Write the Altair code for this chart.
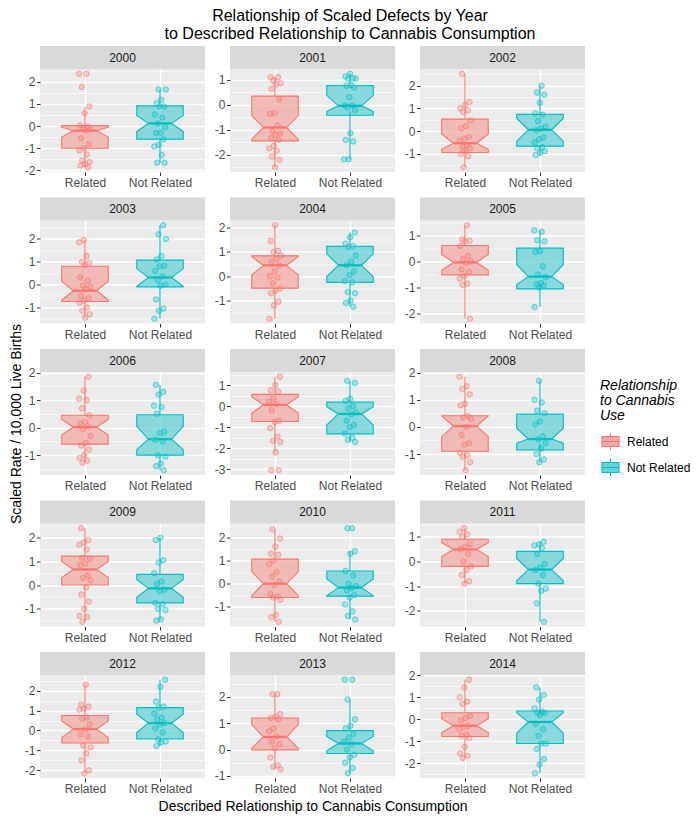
import altair as alt
import pandas as pd

YEARS = list(range(2000, 2015))
GROUPS = ["Related", "Not Related"]
COLORS = ["#F8766D", "#00BFC4"]
BOX_FILLS = ["#F2AAA4", "#67D2D5"]

# Box statistics (lower whisker, Q1, notch low, median, notch high, Q3, upper whisker)
REL_WLO = [-1.86, -2.51, -1.59, -1.45, -1.75, -2.20, -1.27, -2.20, -1.60, -1.55, -1.65, -0.90, -2.15, -0.75, -1.75]
REL_Q1 = [-1.00, -1.45, -0.80, -0.74, -0.49, -0.51, -0.60, -0.73, -0.90, 0.00, -0.60, -0.20, -0.63, -0.01, -0.78]
REL_NLO = [-0.50, -1.39, -0.94, -0.68, 0.05, -0.33, -0.27, -0.33, -0.36, 0.32, -0.52, 0.20, -0.35, 0.05, -0.60]
REL_MED = [-0.21, -0.91, -0.53, -0.27, 0.45, -0.03, 0.02, 0.06, 0.03, 0.66, 0.00, 0.49, 0.07, 0.48, -0.29]
REL_NHI = [0.02, -0.43, -0.12, 0.14, 0.84, 0.27, 0.30, 0.45, 0.41, 1.00, 0.52, 0.76, 0.48, 0.95, 0.03]
REL_Q3 = [-0.05, 0.35, 0.53, 0.80, 0.80, 0.62, 0.45, 0.56, 0.40, 1.22, 1.06, 0.90, 0.75, 1.20, 0.30]
REL_WHI = [0.85, 1.11, 2.53, 1.95, 2.10, 1.40, 1.85, 1.40, 1.85, 2.40, 2.35, 1.35, 2.30, 2.10, 1.80]

NR_WLO = [-1.65, -2.20, -1.05, -1.50, -1.25, -1.75, -1.55, -1.70, -1.30, -1.50, -1.55, -2.45, -0.78, -0.90, -2.45]
NR_Q1 = [-0.59, -0.27, -0.66, -0.10, -0.25, -0.88, -1.00, -1.32, -0.60, -0.75, -0.54, -0.90, -0.43, -0.15, -1.10]
NR_NLO = [-0.25, -0.42, -0.44, -0.08, -0.02, -1.05, -0.80, -0.90, -0.85, -0.52, -0.52, -0.78, -0.10, -0.05, -0.62]
NR_MED = [0.12, -0.04, 0.06, 0.31, 0.45, -0.58, -0.42, -0.37, -0.45, -0.14, -0.17, -0.33, 0.37, 0.23, -0.12]
NR_NHI = [0.48, 0.38, 0.56, 0.70, 0.92, -0.12, 0.05, -0.03, -0.05, 0.24, 0.20, 0.12, 0.82, 0.50, 0.38]
NR_Q3 = [0.91, 0.77, 0.74, 1.07, 1.23, 0.52, 0.47, 0.19, 0.47, 0.45, 0.55, 0.41, 1.15, 0.72, 0.30]
NR_WHI = [1.65, 1.25, 2.00, 2.60, 1.80, 1.20, 1.55, 1.20, 1.70, 2.00, 1.40, 0.80, 2.55, 1.90, 1.45]

# Individual scaled rates (points)
REL_PTS = {
    2000: [2.36, 2.36, 1.76, 0.88, 0.58, 0.02, -0.02, -0.08, -0.15, -0.20, -0.55, -0.82, -1.00, -1.10, -1.28, -1.55, -1.62, -1.72, -1.78, -1.86],
    2001: [1.11, 1.11, 0.98, 0.87, 0.83, 0.64, 0.23, -0.34, -0.36, -0.82, -1.05, -1.15, -1.20, -1.34, -1.41, -1.65, -1.75, -1.85, -2.08, -2.21, -2.51],
    2002: [2.53, 1.29, 1.15, 1.00, 0.91, 0.85, 0.47, 0.22, 0.12, -0.26, -0.32, -0.41, -0.62, -0.70, -0.76, -0.88, -1.00, -1.10, -1.59],
    2003: [1.95, 1.85, 1.25, 1.00, 0.95, 0.85, 0.32, 0.17, -0.05, -0.10, -0.20, -0.50, -0.60, -0.70, -0.80, -1.00, -1.15, -1.30, -1.45],
    2004: [2.10, 1.45, 1.05, 1.00, 0.85, 0.70, 0.60, 0.45, 0.20, 0.00, -0.05, -0.30, -0.50, -0.60, -0.70, -1.05, -1.20, -1.75],
    2005: [1.40, 0.85, 0.80, 0.78, 0.60, 0.22, 0.10, 0.00, -0.05, -0.30, -0.40, -0.55, -0.65, -0.85, -0.90, -2.20],
    2006: [1.85, 1.35, 1.05, 1.00, 0.70, 0.45, 0.20, 0.15, 0.05, -0.05, -0.30, -0.55, -0.65, -0.80, -1.00, -1.10, -1.20, -1.27],
    2007: [1.40, 1.00, 0.75, 0.70, 0.35, 0.20, 0.10, -0.20, -0.70, -0.75, -1.05, -1.45, -1.65, -1.70, -2.20, -3.05, -3.05],
    2008: [1.85, 1.50, 1.40, 1.20, 0.85, 0.80, 0.40, 0.35, 0.30, 0.00, -0.30, -0.60, -0.65, -0.95, -1.05, -1.10, -1.30, -1.60],
    2009: [2.40, 1.90, 1.80, 1.70, 1.50, 1.15, 1.10, 0.90, 0.85, 0.40, 0.30, 0.20, -0.10, -0.40, -0.70, -1.00, -1.30, -1.35, -1.55],
    2010: [2.35, 1.95, 1.60, 1.30, 1.25, 1.00, 0.85, 0.50, 0.30, 0.10, -0.05, -0.45, -0.55, -0.60, -0.70, -1.35, -1.45, -1.65],
    2011: [1.35, 1.20, 1.10, 1.00, 0.70, 0.60, 0.50, 0.30, 0.00, -0.20, -0.35, -0.55, -0.80, -0.90],
    2012: [2.30, 1.30, 1.20, 1.10, 1.05, 0.65, 0.60, 0.30, 0.05, -0.20, -0.30, -0.75, -0.85, -1.15, -1.50, -2.00, -2.15],
    2013: [2.10, 2.10, 1.35, 1.25, 1.20, 1.15, 0.80, 0.70, 0.50, 0.30, 0.20, 0.05, -0.30, -0.60, -0.65, -0.75],
    2014: [1.80, 1.45, 1.00, 0.80, 0.70, 0.15, 0.05, -0.05, -0.30, -0.35, -0.45, -0.70, -0.75, -0.85, -1.25, -1.55, -1.65, -1.75],
}
NR_PTS = {
    2000: [1.65, 1.65, 1.18, 1.02, 0.88, 0.88, 0.52, 0.38, 0.12, -0.05, -0.30, -0.32, -0.60, -0.85, -0.92, -1.30, -1.65, -1.65],
    2001: [1.25, 1.14, 1.07, 1.05, 1.05, 0.80, 0.76, 0.70, 0.30, -0.02, -0.02, -0.10, -0.21, -1.14, -1.41, -1.47, -2.19, -2.19],
    2002: [2.00, 1.70, 1.60, 1.25, 0.78, 0.72, 0.45, 0.20, 0.12, 0.04, -0.28, -0.35, -0.50, -0.70, -0.75, -0.88, -0.95, -1.05],
    2003: [2.60, 2.20, 2.00, 1.25, 1.10, 0.82, 0.80, 0.60, 0.35, 0.20, 0.00, -0.05, -0.65, -1.05, -1.15, -1.50],
    2004: [1.80, 1.60, 1.35, 1.25, 1.20, 0.85, 0.60, 0.45, 0.20, 0.05, -0.20, -0.25, -0.65, -0.70, -1.00, -1.10, -1.25],
    2005: [1.20, 1.15, 0.82, 0.78, 0.40, 0.38, -0.18, -0.50, -0.60, -0.82, -0.88, -0.92, -1.00, -1.75],
    2006: [1.55, 1.30, 1.20, 0.80, 0.75, 0.50, -0.15, -0.20, -0.45, -0.50, -1.00, -1.05, -1.30, -1.40, -1.55],
    2007: [1.20, 1.10, 0.35, 0.25, 0.00, -0.10, -0.30, -0.40, -0.70, -0.90, -1.00, -1.30, -1.50, -1.60, -1.70],
    2008: [1.70, 1.00, 0.90, 0.60, 0.50, 0.20, 0.10, -0.35, -0.45, -0.60, -0.80, -1.00, -1.20, -1.30],
    2009: [2.00, 1.90, 1.05, 0.95, 0.50, 0.15, 0.05, -0.20, -0.25, -0.75, -0.80, -1.00, -1.05, -1.45, -1.50],
    2010: [2.40, 2.40, 1.40, 1.30, 0.55, 0.35, 0.00, -0.10, -0.20, -0.30, -0.50, -0.60, -0.90, -1.20, -1.40, -1.55],
    2011: [0.80, 0.70, 0.65, 0.55, 0.30, -0.10, -0.25, -0.35, -0.55, -0.90, -1.10, -1.20, -1.70, -2.45],
    2012: [2.55, 2.20, 1.45, 1.20, 1.15, 0.85, 0.65, 0.55, 0.37, 0.30, 0.10, -0.10, -0.45, -0.55, -0.60, -0.78],
    2013: [2.65, 2.65, 1.90, 1.15, 0.90, 0.80, 0.60, 0.45, 0.30, 0.20, 0.00, -0.20, -0.30, -0.50, -0.70, -0.90],
    2014: [1.45, 1.10, 0.90, 0.50, 0.35, 0.30, 0.30, 0.20, -0.20, -0.45, -0.75, -1.10, -1.10, -1.35, -1.80, -2.05, -2.45],
}

TITLE = ["Relationship of Scaled Defects by Year", "to Described Relationship to Cannabis Consumption"]
Y_TITLE = "Scaled Rate / 10,000 Live Births"
X_TITLE = "Described Relationship to Cannabis Consumption"
LEGEND_TITLE = ["Relationship", "to Cannabis", "Use"]

# layout / style constants
PW, PH, STRIP = 165, 103, 23
HALF_W = 0.31      # half box width (x units)
NOTCH = 0.155      # notch indent
JIT = 0.16         # jitter spread
FONT = "Liberation Sans"
BOX_PATH = "M-0.9,-0.52H0.9V0.52H-0.9Z M-0.9,0H0.9 M0,-0.52V-0.9 M0,0.52V0.9"

fill_scale = alt.Scale(domain=GROUPS, range=BOX_FILLS)
stroke_scale = alt.Scale(domain=GROUPS, range=COLORS)
pt_scale = alt.Scale(domain=GROUPS, range=COLORS)
x_scale = alt.Scale(domain=[0.4, 2.6], nice=False, zero=False)
y_scale = alt.Scale(zero=False, nice=False, padding=4.7)

legend = alt.Legend(
    title=LEGEND_TITLE, titleFontStyle="italic", titleFontWeight="normal", titleFontSize=14,
    titleColor="black", titleFont=FONT, titleLineHeight=15, titlePadding=8,
    labelFontSize=12, labelColor="black", labelFont=FONT, labelOffset=6,
    symbolType=BOX_PATH, symbolSize=361, symbolStrokeWidth=1.1, rowPadding=3,
    orient="none", legendX=560, legendY=310,
)


def make_axes(i):
    is_int = "abs(datum.value % 1) < 0.001"
    ytitle = Y_TITLE if i == 6 else None
    xtitle = X_TITLE if i == 13 else None
    yax_kwargs = dict(
        values=[k * 0.5 for k in range(-8, 9)],
        labelExpr=f"{is_int} ? toString(datum.value) : ''",
        labelOverlap=False,
        grid=True, gridColor="white",
        gridWidth={"condition": {"test": is_int, "value": 1.3}, "value": 0.6},
        tickOpacity={"condition": {"test": is_int, "value": 1}, "value": 0},
        tickSize=3.5, tickColor="#333333", domain=False,
        labelFontSize=12, labelColor="#4d4d4d", labelPadding=1.5, labelFont=FONT,
        title=ytitle,
    )
    if ytitle:
        yax_kwargs.update(titleFontSize=14, titleFontWeight="normal", titleColor="black",
                          titleFont=FONT, titleAngle=270, titleX=-24, titleY=PH / 2,
                          titleAlign="center", titleBaseline="middle")
    xax_kwargs = dict(
        values=[1, 2],
        labelExpr="datum.value == 1 ? 'Related' : 'Not Related'",
        grid=True, gridColor="white", gridWidth=1.3,
        tickSize=3.5, tickColor="#333333", domain=False,
        labelFontSize=12, labelColor="#4d4d4d", labelPadding=2, labelFont=FONT,
        labelFlush=False, title=xtitle,
    )
    if xtitle:
        xax_kwargs.update(titleFontSize=14, titleFontWeight="normal", titleColor="black",
                          titleFont=FONT, titlePadding=5)
    return alt.Axis(**xax_kwargs), alt.Axis(**yax_kwargs)


def panel(i, year):
    xa, ya = make_axes(i)
    groups = [
        ("Related", REL_PTS[year], REL_WLO[i], REL_Q1[i], REL_NLO[i], REL_MED[i], REL_NHI[i], REL_Q3[i], REL_WHI[i]),
        ("Not Related", NR_PTS[year], NR_WLO[i], NR_Q1[i], NR_NLO[i], NR_MED[i], NR_NHI[i], NR_Q3[i], NR_WHI[i]),
    ]
    pts_rows, poly_rows, stat_rows = [], [], []
    for gi, (name, pts, wlo, q1, nlo, med, nhi, q3, whi) in enumerate(groups):
        xc = gi + 1
        xl, xr = xc - HALF_W, xc + HALF_W
        for k, v in enumerate(pts):
            off = ((k * 0.6180339887 + gi * 0.37 + i * 0.13) % 1.0 - 0.5) * JIT
            pts_rows.append({"grp": name, "val": v, "xj": xc + off})
        verts = [(q3, xl, xr), (nhi, xl, xr), (med, xl + NOTCH, xr - NOTCH), (nlo, xl, xr), (q1, xl, xr)]
        for yv, a, b in verts:
            poly_rows.append({"grp": name, "yv": yv, "xa": a, "xb": b})
        stat_rows.append({"grp": name, "xc": xc, "wlo": wlo, "q1": q1, "med": med, "q3": q3,
                          "whi": whi, "ml": xl + NOTCH, "mr": xr - NOTCH})
    pts_df = pd.DataFrame(pts_rows)
    poly_df = pd.DataFrame(poly_rows)
    stat_df = pd.DataFrame(stat_rows)
    strip_df = pd.DataFrame({"year": [str(year)]})

    stroke_nl = alt.Stroke("grp:N", scale=stroke_scale, legend=None)

    strip = alt.Chart(strip_df).mark_rect(color="#d9d9d9").encode(
        x=alt.value(0), x2=alt.value(PW), y=alt.value(-STRIP), y2=alt.value(0))
    strip_txt = alt.Chart(strip_df).mark_text(fontSize=12, color="#1a1a1a", font=FONT, baseline="middle").encode(
        x=alt.value(PW / 2), y=alt.value(-STRIP / 2), text="year:N")

    box = alt.Chart(poly_df).mark_area(orient="horizontal", fillOpacity=0.75, strokeWidth=1.1,
                                       strokeOpacity=1).encode(
        y=alt.Y("yv:Q", scale=y_scale, axis=ya),
        x=alt.X("xa:Q", scale=x_scale, axis=xa, stack=None),
        x2="xb:Q",
        fill=alt.Fill("grp:N", scale=fill_scale, legend=legend),
        stroke=alt.Stroke("grp:N", scale=stroke_scale, legend=legend),
    )
    w_lo = alt.Chart(stat_df).mark_rule(strokeWidth=1.1).encode(
        x=alt.X("xc:Q", scale=x_scale, axis=xa),
        y=alt.Y("wlo:Q", scale=y_scale, axis=ya), y2="q1:Q", stroke=stroke_nl)
    w_hi = alt.Chart(stat_df).mark_rule(strokeWidth=1.1).encode(
        x=alt.X("xc:Q", scale=x_scale, axis=xa),
        y=alt.Y("q3:Q", scale=y_scale, axis=ya), y2="whi:Q", stroke=stroke_nl)
    med = alt.Chart(stat_df).mark_rule(strokeWidth=2.3).encode(
        x=alt.X("ml:Q", scale=x_scale, axis=xa), x2="mr:Q",
        y=alt.Y("med:Q", scale=y_scale, axis=ya), stroke=stroke_nl)
    pts = alt.Chart(pts_df).mark_circle(size=30, fillOpacity=0.3, strokeOpacity=0.55, strokeWidth=1).encode(
        x=alt.X("xj:Q", scale=x_scale, axis=xa),
        y=alt.Y("val:Q", scale=y_scale, axis=ya),
        color=alt.Color("grp:N", scale=pt_scale, legend=None),
        stroke=stroke_nl)

    return alt.layer(strip, strip_txt, box, w_lo, w_hi, med, pts).properties(width=PW, height=PH)


panels = [panel(i, y) for i, y in enumerate(YEARS)]

chart = alt.concat(
    *panels, columns=3, spacing={"row": 48.5, "column": 25}, bounds="flush"
).properties(
    title=alt.TitleParams(text=TITLE, fontSize=16, fontWeight="normal", font=FONT, color="black",
                          anchor="middle", lineHeight=18, offset=4),
    padding={"left": 0, "top": 0, "right": 0, "bottom": 0},
    background="white",
).resolve_scale(
    y="independent"
).configure(
    font=FONT
).configure_view(
    fill="#ebebeb", strokeWidth=0
)

chart.save("out.html", embed_options={"renderer": "svg", "actions": False})
